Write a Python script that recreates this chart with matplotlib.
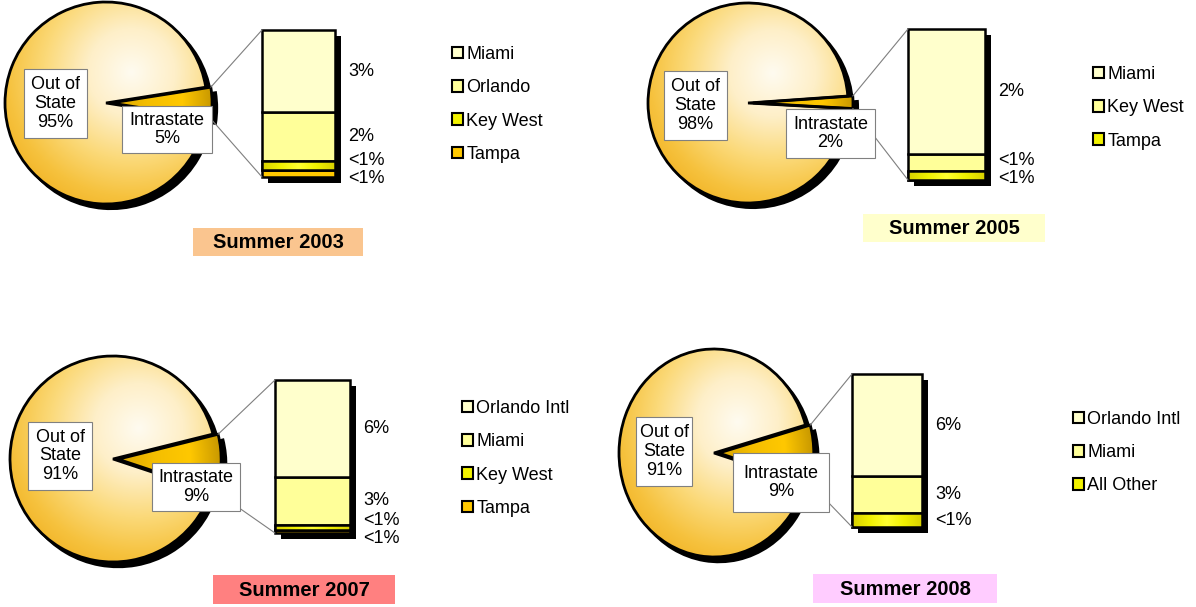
import numpy as np
import matplotlib
matplotlib.use('Agg')
import matplotlib.pyplot as plt
from matplotlib.patches import Rectangle, Wedge, Patch, ConnectionPatch
from matplotlib.colors import LinearSegmentedColormap
from matplotlib.transforms import ScaledTranslation

plt.rcParams['font.family'] = ['Liberation Sans', 'DejaVu Sans']

# ---- data ----
years = ['2003', '2005', '2007', '2008']
out_of_state = [95, 98, 91, 91]
intrastate = [5, 2, 9, 9]

cities_2003 = ['Miami', 'Orlando', 'Key West', 'Tampa']
shares_2003 = [2.8, 1.65, 0.3, 0.25]
labels_2003 = ['3%', '2%', '<1%', '<1%']

cities_2005 = ['Miami', 'Key West', 'Tampa']
shares_2005 = [1.66, 0.22, 0.12]
labels_2005 = ['2%', '<1%', '<1%']

cities_2007 = ['Orlando Intl', 'Miami', 'Key West', 'Tampa']
shares_2007 = [5.7, 2.8, 0.3, 0.2]
labels_2007 = ['6%', '3%', '<1%', '<1%']

cities_2008 = ['Orlando Intl', 'Miami', 'All Other']
shares_2008 = [6.0, 2.2, 0.8]
labels_2008 = ['6%', '3%', '<1%']

cities = [cities_2003, cities_2005, cities_2007, cities_2008]
shares = [shares_2003, shares_2005, shares_2007, shares_2008]
bar_labels = [labels_2003, labels_2005, labels_2007, labels_2008]

seg_colors = ['#FFFFCC', '#FFFF99', '#F2F200', '#FFC800']
title_colors = ['#FAC58F', '#FFFFCC', '#FF8080', '#FFCCFF']

# ---- layout in pixels (top-left origin) ----
W, H = 1196, 607
layout = [
    dict(pie=(106, 103, 101, 101), ang=0.0, bar=(262, 30, 335, 177), leg=(452, 46),
         title=(193, 228, 363, 256), obox=(24, 69, 87, 138), ibox=(122, 106, 212, 153)),
    dict(pie=(748, 103, 100, 100), ang=0.4, bar=(908, 29, 985, 180), leg=(1093, 66),
         title=(863, 214, 1045, 242), obox=(664, 71, 727, 140), ibox=(786, 109, 875, 158)),
    dict(pie=(113, 459, 103, 103), ang=-2.2, bar=(275, 380, 350, 533), leg=(462, 400),
         title=(213, 575, 395, 604), obox=(28, 422, 92, 490), ibox=(152, 463, 240, 511)),
    dict(pie=(714, 453, 95, 104), ang=-0.6, bar=(852, 374, 922, 527), leg=(1073, 411),
         title=(813, 574, 997, 603), obox=(636, 417, 692, 486), ibox=(733, 453, 829, 512)),
]

fig = plt.figure(figsize=(W / 100, H / 100), dpi=100)

def px_rect(x0, y0, x1, y1):
    return [x0 / W, 1 - y1 / H, (x1 - x0) / W, (y1 - y0) / H]

cmap_out = LinearSegmentedColormap.from_list(
    'out', [(0, '#FFFBF0'), (0.3, '#FEEFC8'), (0.6, '#FBD978'), (0.85, '#F6C23E'), (1, '#F2B528')])
cmap_in = LinearSegmentedColormap.from_list(
    'in', [(0, '#D8A400'), (0.35, '#F4BE00'), (0.7, '#FFC800'), (1, '#C89800')])
cmap_yel = LinearSegmentedColormap.from_list('yel', ['#FFFF30', '#F0F000', '#D8D000'])

LIM = 1.2

def gradient(ax, patch, cmap, cx, cy, scale):
    xs = np.linspace(-LIM, LIM, 300)
    X, Y = np.meshgrid(xs, xs)
    D = np.clip(np.hypot(X - cx, Y - cy) / scale, 0, 1)
    im = ax.imshow(D, extent=(-LIM, LIM, -LIM, LIM), origin='lower', cmap=cmap,
                   vmin=0, vmax=1, zorder=2, interpolation='bilinear')
    im.set_clip_path(patch)

ov = fig.add_axes([0, 0, 1, 1], zorder=5)
ov.set_xlim(0, W)
ov.set_ylim(H, 0)
ov.axis('off')
ov.patch.set_alpha(0)

for i in range(4):
    L = layout[i]
    cx, cy, rx, ry = L['pie']
    pax = fig.add_axes(px_rect(cx - LIM * rx, cy - LIM * ry, cx + LIM * rx, cy + LIM * ry))
    p_in = intrastate[i]
    p_out = out_of_state[i]
    start = L['ang'] - 180 * p_in / (p_in + p_out)
    wedges, _ = pax.pie([p_in, p_out], startangle=start, explode=[0.05, 0],
                        colors=['#FFCC00', '#F5B820'], wedgeprops=dict(linewidth=0))
    for w in wedges:
        pax.add_patch(Wedge((w.center[0] + 0.05, w.center[1] - 0.05), w.r, w.theta1, w.theta2,
                            fc='black', ec='black', lw=1.5, zorder=0.5))
    gradient(pax, wedges[1], cmap_out, 0.25, 0.3, 1.45)
    gradient(pax, wedges[0], cmap_in, wedges[0].center[0], wedges[0].center[1], 1.0)
    for w in wedges:
        pax.add_patch(Wedge(w.center, w.r, w.theta1, w.theta2, fc='none', ec='black', lw=2.0, zorder=3))
    pax.set_aspect('auto')
    pax.set_xlim(-LIM, LIM)
    pax.set_ylim(-LIM, LIM)
    pax.axis('off')

    # bar of the intrastate share
    bx0, by0, bx1, by1 = L['bar']
    bax = fig.add_axes(px_rect(bx0, by0, bx1, by1))
    vals = shares[i]
    total = sum(vals)
    bax.bar(0, total, width=1, color='black', clip_on=False, zorder=1,
            transform=bax.transData + ScaledTranslation(0.06, -0.06, fig.dpi_scale_trans))
    bottom = 0
    for v, c in zip(vals[::-1], seg_colors[:len(vals)][::-1]):
        bars = bax.bar(0, v, bottom=bottom, width=1, color=c, edgecolor='black', linewidth=1.8,
                       clip_on=False, zorder=2)
        if c == '#F2F200':
            g = np.abs(np.linspace(-1, 1, 200))[None, :]
            im = bax.imshow(g, extent=(-0.5, 0.5, bottom, bottom + v), cmap=cmap_yel,
                            aspect='auto', zorder=2.5, interpolation='bilinear')
            im.set_clip_path(bars[0])
            bax.add_patch(Rectangle((-0.5, bottom), 1, v, fc='none', ec='black', lw=1.8,
                                    clip_on=False, zorder=3))
        bottom += v
    bax.set_xlim(-0.5, 0.5)
    bax.set_ylim(0, total)
    bax.axis('off')

    # labels at segment centres, pushed apart when too close
    tops = total - np.cumsum([0] + vals[:-1])
    ys = list(tops - np.array(vals) / 2)
    gap = 18 * total / (by1 - by0)
    for _ in range(50):
        for k in range(len(ys) - 1):
            d = ys[k] - ys[k + 1]
            if d < gap:
                ys[k] += (gap - d) / 2
                ys[k + 1] -= (gap - d) / 2
    for y, lab in zip(ys, bar_labels[i]):
        bax.text(0.5 + 13 / (bx1 - bx0), y, lab, ha='left', va='center', fontsize=13)

    # connector lines from the slice to the bar
    w0 = wedges[0]
    for th, yb in ((w0.theta2, total), (w0.theta1, 0)):
        xa = w0.center[0] + np.cos(np.radians(th))
        ya = w0.center[1] + np.sin(np.radians(th))
        con = ConnectionPatch(xyA=(xa, ya), coordsA=pax.transData, xyB=(-0.5, yb),
                              coordsB=bax.transData, color='#7f7f7f', lw=0.8, zorder=2)
        fig.add_artist(con)

    # label boxes on the pie
    for box, txt in ((L['obox'], f'Out of\nState\n{p_out}%'), (L['ibox'], f'Intrastate\n{p_in}%')):
        x0, y0, x1, y1 = box
        ov.add_patch(Rectangle((x0, y0), x1 - x0, y1 - y0, fc='white', ec='#808080', lw=0.8))
        ov.text((x0 + x1) / 2, (y0 + y1) / 2, txt, ha='center', va='center', fontsize=13,
                linespacing=1.12)

    # title box
    x0, y0, x1, y1 = L['title']
    ov.add_patch(Rectangle((x0, y0), x1 - x0, y1 - y0, fc=title_colors[i], ec='none'))
    ov.text((x0 + x1) / 2, (y0 + y1) / 2 + 1, 'Summer ' + years[i], ha='center', va='center',
            fontsize=14.5, fontweight='bold')

    # legend
    handles = [Patch(facecolor=c, edgecolor='black', linewidth=1.5) for c in seg_colors[:len(vals)]]
    lx, ly = L['leg']
    fig.legend(handles, cities[i], loc='upper left', bbox_to_anchor=(lx, ly),
               bbox_transform=ov.transData, frameon=False, fontsize=13, handlelength=0.6,
               handleheight=0.6, handletextpad=0.2, labelspacing=0.9, borderpad=0,
               borderaxespad=0)

fig.savefig('out.png', dpi=100)
